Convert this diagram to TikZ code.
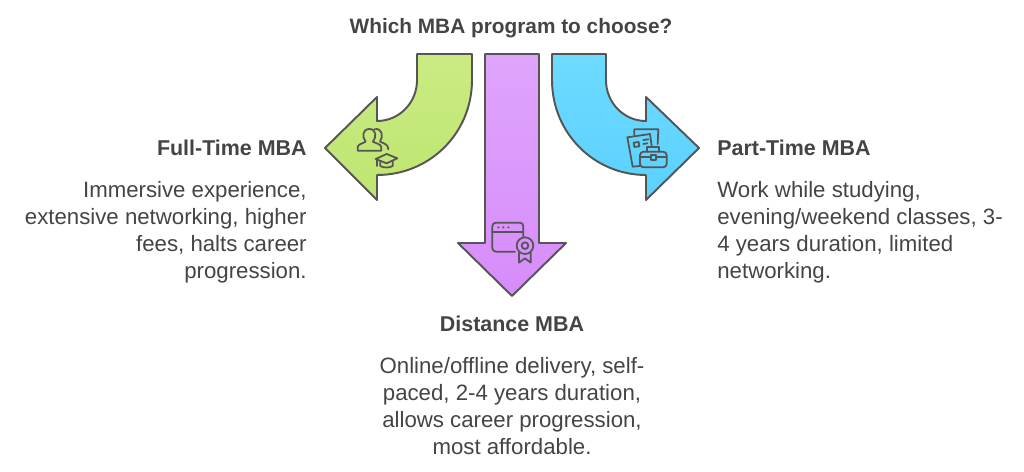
\documentclass[tikz,border=0pt]{standalone}
\usepackage{fontspec}
\setmainfont{Liberation Sans}
\definecolor{inktxt}{HTML}{444444}
\definecolor{inkline}{HTML}{555555}
\definecolor{greentop}{HTML}{CAEB83}
\definecolor{greenbot}{HTML}{BEE570}
\definecolor{purpletop}{HTML}{E0A4FC}
\definecolor{purplebot}{HTML}{D68CFA}
\definecolor{bluetop}{HTML}{6EDAFF}
\definecolor{bluebot}{HTML}{5AD1FF}
\tikzset{
	headtxt/.style={inner sep=0pt, text=inktxt, font=\fontsize{12.2}{15.4}\selectfont\bfseries},
	bodytxt/.style={inner sep=0pt, text=inktxt, font=\fontsize{12.65}{15.4}\selectfont},
	arrowshape/.style={draw=inkline, line width=1.1pt, line join=round},
	icon/.style={draw=inkline, line width=1pt, line join=round, line cap=round}
}
\begin{document}
\begin{tikzpicture}[x=0.02cm, y=-0.02cm]
	\useasboundingbox (0,0) rectangle (1024,472);

	% arrows
	\draw [arrowshape, top color=purpletop, bottom color=purplebot]
		(485,54) -- (539,54) -- (539,243) -- (566,243) -- (512,296) -- (458,243) -- (485,243) -- cycle;
	\draw [arrowshape, top color=greentop, bottom color=greenbot]
		(417,54) -- (472,54) -- (472,80) .. controls (472,133) and (430,175) .. (377,175) -- (377,200) -- (325,148) -- (377,97) -- (377,121) .. controls (399,121) and (417,103) .. (417,80) -- cycle;
	\draw [arrowshape, top color=bluetop, bottom color=bluebot]
		(606,54) -- (552,54) -- (552,80) .. controls (552,133) and (594,175) .. (646,175) -- (646,200) -- (699,148) -- (646,97) -- (646,121) .. controls (624,121) and (606,103) .. (606,80) -- cycle;

	% people and cap
	\begin{scope}[shift={(320,40)}, scale=1/3]
		\draw [icon] (113,332) -- (113,322) .. controls (113,312) and (130,310) .. (137,305) .. controls (125,290) and (128,267) .. (148,267) .. controls (168,267) and (171,290) .. (159,305) .. controls (166,310) and (184,312) .. (184,322) -- (184,332) -- cycle;
		\draw [icon] (163,268) .. controls (185,262) and (192,288) .. (180,305) .. controls (190,310) and (205,312) .. (205,328);
		\draw [icon] (167,357) -- (200,342) -- (232,355) -- (200,370) -- cycle;
		\draw [icon] (181,364) -- (181,378) .. controls (190,384) and (208,384) .. (218,378) -- (218,364);
		\draw [icon] (171,359) -- (171,378);
	\end{scope}

	% sheets and briefcase
	\begin{scope}[shift={(540,40)}, scale=1/3]
		\draw [icon] (283,285) -- (283,268) -- (355,268) -- (353,312);
		\draw [icon] (300,378) -- (278,380) -- (262,292) -- (330,282) -- (335,318);
		\draw [icon] (281,308) -- (296,306) -- (298,319) -- (283,321) -- cycle;
		\draw [icon] (310,300) -- (325,298);
		\draw [icon] (310,312) -- (322,310);
		\draw [icon, rounded corners=2pt] (300,335) rectangle (380,382);
		\draw [icon] (322,335) -- (322,322) -- (358,322) -- (358,335);
		\draw [icon] (300,352) -- (332,352);
		\draw [icon] (348,352) -- (380,352);
		\draw [icon] (333,346) rectangle (347,360);
	\end{scope}

	% window and badge
	\begin{scope}[shift={(450,200)}, scale=1/3]
		\draw [icon, rounded corners=2pt] (195,155) -- (127,155) -- (127,68) -- (220,68) -- (220,110);
		\draw [icon] (127,97) -- (220,97);
		\foreach \i in {145,160,175}{
			\fill [inkline] (\i,82) circle (3.5);}
		\draw [icon] (225,137) circle (25);
		\draw [icon] (225,137) circle (10);
		\draw [icon] (207,158) -- (207,188) -- (225,175) -- (242,188) -- (242,158);
	\end{scope}

	% labels
	\node [headtxt, font=\fontsize{11.85}{15.4}\selectfont\bfseries] (question) at (511,28) {Which MBA program to choose?};

	\node [headtxt, anchor=east] (fulltitle) at (307,148) {Full-Time MBA};
	\node [bodytxt, anchor=north east, align=right] (fulltext) at (307,181) {Immersive experience,\\extensive networking, higher\\fees, halts career\\progression.};

	\node [headtxt, anchor=west] (parttitle) at (717,148) {Part-Time MBA};
	\node [bodytxt, anchor=north west, align=left] (parttext) at (717,181) {Work while studying,\\evening/weekend classes, 3-\\4 years duration, limited\\networking.};

	\node [headtxt] (disttitle) at (512,324) {Distance MBA};
	\node [bodytxt, anchor=north, align=center] (disttext) at (512,357) {Online/offline delivery, self-\\paced, 2-4 years duration,\\allows career progression,\\most affordable.};
\end{tikzpicture}
\end{document}
